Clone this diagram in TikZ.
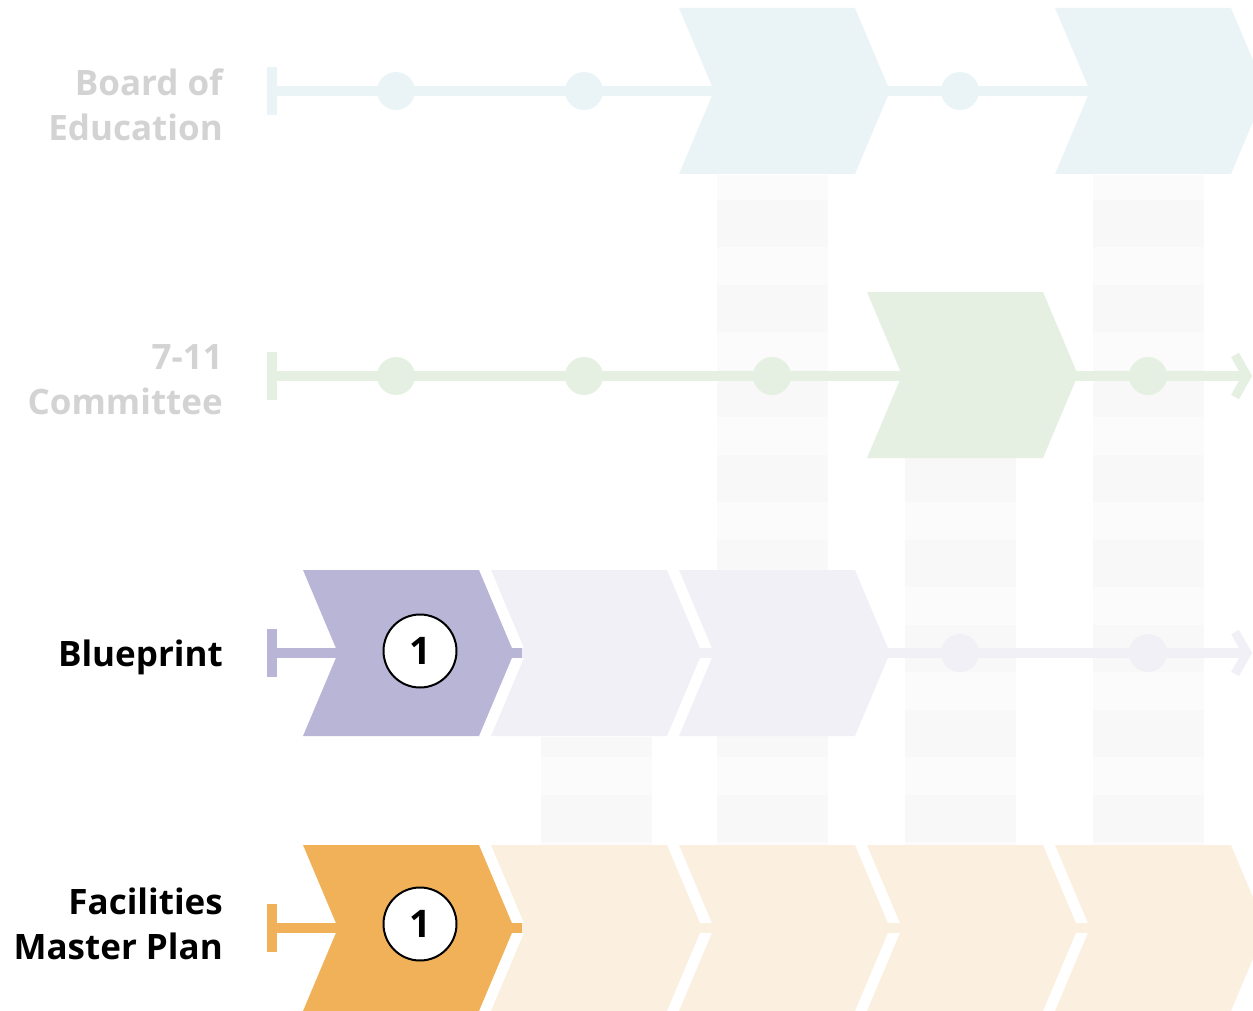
\documentclass[tikz,border=0pt]{standalone}
\usepackage{fontspec}
\setmainfont{Open Sans}
\definecolor{boardc}{HTML}{EAF4F7}
\definecolor{commc}{HTML}{E5F0E3}
\definecolor{bluec}{HTML}{B9B5D7}
\definecolor{bluepale}{HTML}{F1F0F7}
\definecolor{facc}{HTML}{F1B158}
\definecolor{facpale}{HTML}{FBEFE0}
\definecolor{graytxt}{HTML}{D3D3D3}
\definecolor{stripelight}{HTML}{FBFBFB}
\definecolor{stripedark}{HTML}{F8F8F8}
\newcommand\chevshape[3]{% x start, center y, colour
  \fill[#3] (#1,#2-83) -- (#1+176,#2-83) -- (#1+211,#2) -- (#1+176,#2+83) -- (#1,#2+83) -- (#1+35,#2) -- cycle;}
\newcommand\stripecol[3]{% x left, y top, y bottom
  \fill[stripelight] (#1,#2) rectangle (#1+111,#3);
  \begin{scope}
    \clip (#1,#2) rectangle (#1+111,#3);
    \foreach \k in {0,...,7}{\fill[stripedark] (#1,200+85*\k) rectangle (#1+111,247+85*\k);}
  \end{scope}}
\newcommand\rowstart[2]{% center y, colour
  \fill[#2] (267,#1-24) rectangle (277,#1+24);}
\begin{document}
\begin{tikzpicture}[x=1pt,y=-1pt,
  tline/.style={line width=10pt,line cap=butt},
  dotc/.style={circle,inner sep=0pt,minimum size=38pt},
  openarrow/.style={line width=9pt,line cap=butt,line join=miter},
  numc/.style={circle,draw=black,line width=2pt,fill=white,minimum size=73pt,inner sep=0pt,
    font=\fontsize{38}{40}\selectfont\bfseries},
  rowlabel/.style={anchor=base east,align=right,inner sep=0pt,
    font=\fontsize{35}{45}\selectfont\bfseries}]
\useasboundingbox (0,0) rectangle (1253,1011);
\clip (0,0) rectangle (1253,1011);
% background stripe columns
\stripecol{717}{175}{845}
\stripecol{1093}{175}{845}
\stripecol{905}{457}{845}
\stripecol{541}{737}{845}
% ---------- Board of Education row ----------
\rowstart{91}{boardc}
\coordinate (b0) at (272,91);
\coordinate (b1) at (1100,91);
\draw[tline,boardc] (b0) -- (b1);
\node[dotc,fill=boardc] (bd1) at (396,91) {};
\node[dotc,fill=boardc] (bd2) at (584,91) {};
\node[dotc,fill=boardc] (bd4) at (960,91) {};
\chevshape{679}{91}{boardc}
\chevshape{1055}{91}{boardc}
% ---------- 7-11 Committee row ----------
\rowstart{376}{commc}
\coordinate (c0) at (272,376);
\coordinate (c1) at (1244,376);
\draw[tline,commc] (c0) -- (c1);
\node[dotc,fill=commc] (cd1) at (396,376) {};
\node[dotc,fill=commc] (cd2) at (584,376) {};
\node[dotc,fill=commc] (cd3) at (772,376) {};
\node[dotc,fill=commc] (cd5) at (1148,376) {};
\draw[openarrow,commc] (1235,355) -- (1247,376) -- (1235,397);
\chevshape{867}{375}{commc}
% ---------- Blueprint row ----------
\rowstart{653}{bluec}
\coordinate (p0) at (272,653);
\coordinate (p1) at (522,653);
\coordinate (p2) at (1244,653);
\draw[tline,bluepale] (p1) -- (p2);
\draw[tline,bluec] (p0) -- (p1);
\node[dotc,fill=bluepale] (pd4) at (960,653) {};
\node[dotc,fill=bluepale] (pd5) at (1148,653) {};
\draw[openarrow,bluepale] (1235,632) -- (1247,653) -- (1235,674);
\chevshape{303}{653}{bluec}
\chevshape{491}{653}{bluepale}
\chevshape{679}{653}{bluepale}
\node[numc] (pn) at (420,651) {1};
% ---------- Facilities Master Plan row ----------
\rowstart{928}{facc}
\coordinate (f0) at (272,928);
\coordinate (f1) at (522,928);
\coordinate (f2) at (1253,928);
\draw[tline,facpale] (f1) -- (f2);
\draw[tline,facc] (f0) -- (f1);
\chevshape{303}{928}{facc}
\chevshape{491}{928}{facpale}
\chevshape{679}{928}{facpale}
\chevshape{867}{928}{facpale}
\chevshape{1055}{928}{facpale}
\node[numc] (fn) at (420,924) {1};
% ---------- labels ----------
\node[rowlabel,text=graytxt] (lb) at (223,141) {Board of\\Education};
\node[rowlabel,text=graytxt] (lc) at (223,414) {7-11\\Committee};
\node[rowlabel,text=black] (lp) at (223,666) {Blueprint};
\node[rowlabel,text=black] (lf) at (223,959) {Facilities\\Master Plan};
\end{tikzpicture}
\end{document}
